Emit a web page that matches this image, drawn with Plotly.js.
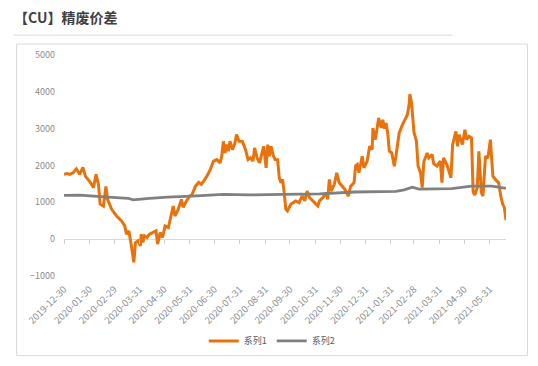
<!DOCTYPE html>
<html><head><meta charset="utf-8">
<script src="https://cdn.plot.ly/plotly-3.0.1.min.js"></script>
<style>html,body{margin:0;padding:0;background:#fff;}#chart{width:538px;height:366px;}</style>
</head><body><div id="chart"></div>
<script>
const s1Dates = ["2019-12-30","2020-01-03","2020-01-06","2020-01-10","2020-01-14","2020-01-18","2020-01-22","2020-01-25","2020-01-31","2020-02-04","2020-02-07","2020-02-10","2020-02-12","2020-02-16","2020-02-19","2020-02-21","2020-02-26","2020-03-03","2020-03-09","2020-03-13","2020-03-15","2020-03-18","2020-03-21","2020-03-24","2020-03-26","2020-03-29","2020-04-01","2020-04-02","2020-04-04","2020-04-06","2020-04-09","2020-04-12","2020-04-16","2020-04-20","2020-04-22","2020-04-25","2020-04-28","2020-05-01","2020-05-05","2020-05-11","2020-05-13","2020-05-17","2020-05-21","2020-05-23","2020-05-27","2020-05-31","2020-06-03","2020-06-07","2020-06-11","2020-06-14","2020-06-17","2020-06-21","2020-06-25","2020-06-29","2020-07-03","2020-07-07","2020-07-09","2020-07-11","2020-07-13","2020-07-15","2020-07-17","2020-07-19","2020-07-22","2020-07-25","2020-07-27","2020-07-30","2020-08-03","2020-08-07","2020-08-10","2020-08-13","2020-08-16","2020-08-18","2020-08-21","2020-08-24","2020-08-27","2020-08-29","2020-09-01","2020-09-03","2020-09-05","2020-09-07","2020-09-10","2020-09-12","2020-09-15","2020-09-17","2020-09-19","2020-09-21","2020-09-23","2020-09-25","2020-09-27","2020-10-01","2020-10-07","2020-10-11","2020-10-15","2020-10-18","2020-10-21","2020-10-24","2020-10-30","2020-11-03","2020-11-05","2020-11-09","2020-11-13","2020-11-15","2020-11-17","2020-11-19","2020-11-23","2020-11-26","2020-11-29","2020-12-03","2020-12-06","2020-12-10","2020-12-13","2020-12-17","2020-12-19","2020-12-21","2020-12-23","2020-12-27","2020-12-29","2021-01-02","2021-01-05","2021-01-08","2021-01-09","2021-01-12","2021-01-16","2021-01-19","2021-01-21","2021-01-23","2021-01-25","2021-01-27","2021-01-29","2021-02-01","2021-02-04","2021-02-06","2021-02-10","2021-02-14","2021-02-18","2021-02-20","2021-02-22","2021-02-23","2021-02-25","2021-02-28","2021-03-03","2021-03-05","2021-03-08","2021-03-10","2021-03-12","2021-03-16","2021-03-18","2021-03-22","2021-03-24","2021-03-28","2021-04-01","2021-04-03","2021-04-05","2021-04-09","2021-04-14","2021-04-16","2021-04-20","2021-04-22","2021-04-24","2021-04-28","2021-05-01","2021-05-03","2021-05-06","2021-05-09","2021-05-11","2021-05-13","2021-05-16","2021-05-18","2021-05-21","2021-05-23","2021-05-26","2021-05-29","2021-06-01","2021-06-04","2021-06-07","2021-06-11","2021-06-14","2021-06-16","2021-06-18","2021-06-20"];
const s1Values = [1760,1780,1760,1800,1910,1760,1950,1710,1540,1400,1760,1480,950,900,1430,1080,810,630,495,360,135,225,-180,-630,-90,-45,-180,135,-90,90,45,135,180,225,-135,180,45,360,315,900,630,810,1080,865,1036,1170,1216,1440,1540,1486,1576,1710,1890,2117,2160,2072,2252,2657,2342,2567,2387,2657,2432,2600,2838,2657,2657,2432,2162,2207,2117,2477,2207,2072,2342,2522,1937,2567,2252,2522,2250,2162,2160,1667,1532,1622,1262,811,766,946,1036,992,1171,1040,1306,1126,992,900,1040,1126,1262,1081,1622,1306,1486,1802,1532,1441,1351,1171,1441,1532,1990,2027,1802,2252,1937,2117,2522,2432,3018,2703,3288,3018,3243,3000,3153,2882,2387,2342,1982,2252,2882,3108,3288,3378,3649,3937,3700,2900,2657,1982,1800,1397,2100,2342,2207,2297,2050,1982,2117,1532,2207,2027,1667,2567,2927,2522,2838,2567,2973,2703,2792,2750,1280,1200,1400,2387,1262,1171,2252,2200,2703,1711,1622,1532,1126,946,856,514];
const s2Dates = ["2019-12-30","2020-01-18","2020-02-17","2020-03-13","2020-03-17","2020-03-23","2020-03-31","2020-04-12","2020-05-04","2020-05-22","2020-06-03","2020-07-11","2020-08-11","2020-09-21","2020-11-05","2020-12-18","2021-01-16","2021-02-06","2021-02-16","2021-02-26","2021-03-06","2021-04-15","2021-05-09","2021-06-03","2021-06-20"];
const s2Values = [1190,1195,1150,1130,1110,1065,1085,1105,1140,1150,1170,1215,1200,1215,1230,1280,1295,1300,1340,1410,1360,1370,1440,1440,1380];
const tickDates = ["2019-12-30","2020-01-30","2020-02-29","2020-03-31","2020-04-30","2020-05-31","2020-06-30","2020-07-31","2020-08-31","2020-09-30","2020-10-31","2020-11-30","2020-12-31","2021-01-31","2021-02-28","2021-03-31","2021-04-30","2021-05-31"];
const tickLabels = tickDates.slice();
const seriesNames = ["系列1","系列2"];
const titleText = "【CU】精废价差";

const xRange = ["2019-12-30","2021-06-20"];
const font = "Noto Sans CJK SC, sans-serif";
const data = [
  {x: s1Dates, y: s1Values, name: seriesNames[0], type: "scatter", mode: "lines",
   line: {color: "#E8720C", width: 3}},
  {x: s2Dates, y: s2Values, name: seriesNames[1], type: "scatter", mode: "lines",
   line: {color: "#808080", width: 2.8}, xaxis: "x2"}
];
const layout = {
  width: 538, height: 366,
  margin: {l: 64, r: 31.5, t: 55, b: 89},
  paper_bgcolor: "#fff", plot_bgcolor: "#fff",
  font: {family: font, color: "#8c8c8c"},
  title: {text: "<b>" + titleText + "</b>", xref: "container", yref: "container",
          x: 14/538, xanchor: "left", y: 1 - 18/366, yanchor: "middle",
          font: {family: font, size: 14, color: "#404040"}},
  xaxis: {type: "date", range: xRange, tickmode: "array", tickvals: tickDates, ticktext: tickLabels,
          tickangle: -45, showgrid: false, zeroline: false, showline: false, ticks: "",
          ticklabelstandoff: 5,
          tickfont: {family: font, size: 9.5, color: "#8c8c8c"}},
  xaxis2: {type: "date", range: xRange, overlaying: "x", anchor: "free", position: 1/6, side: "bottom",
           tickmode: "array", tickvals: tickDates, showticklabels: false,
           showgrid: false, zeroline: false, showline: false,
           ticks: "outside", ticklen: 4, tickcolor: "#d0d0d0", tickwidth: 1},
  yaxis: {range: [-1000, 5000], dtick: 1000, tick0: 0, showgrid: false,
          zeroline: true, zerolinecolor: "#d9d9d9", zerolinewidth: 1,
          showline: false, ticks: "", ticklabelstandoff: 8,
          tickfont: {family: font, size: 9, color: "#8c8c8c"}},
  showlegend: true,
  legend: {orientation: "h", x: 0.47, xanchor: "center", y: -0.288, yanchor: "middle",
           font: {family: font, size: 9, color: "#595959"}, itemwidth: 30, tracegroupgap: 0},
  shapes: [
    {type: "rect", xref: "paper", yref: "paper", x0: -0.1073, x1: 1.0486, y0: -0.3604, y1: 1.0495,
     line: {color: "#d9d9d9", width: 1}, fillcolor: "rgba(0,0,0,0)", layer: "below"},
    {type: "line", xref: "paper", yref: "paper", x0: -0.113, x1: 0.879, y0: 1.090, y1: 1.090,
     line: {color: "#d9d9d9", width: 1}}
  ]
};
Plotly.newPlot("chart", data, layout, {displayModeBar: false, staticPlot: true});
</script></body></html>
